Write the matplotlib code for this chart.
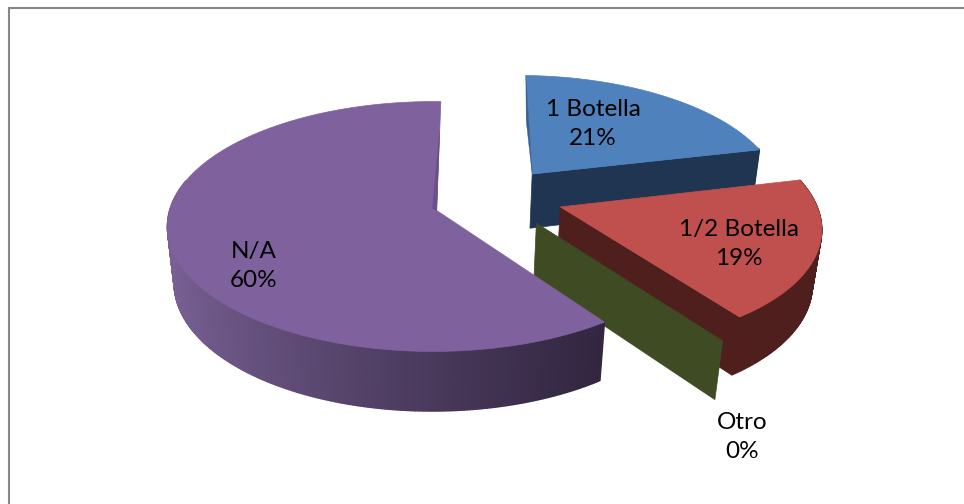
import numpy as np
import matplotlib
matplotlib.use('Agg')
import matplotlib.pyplot as plt
from matplotlib.patches import Polygon

plt.rcParams['font.family'] = ['Lato', 'DejaVu Sans']

categories = ['1 Botella', '1/2 Botella', 'Otro', 'N/A']
values = [21, 19, 0, 60]
top_colors = ['#4F81BD', '#C0504D', '#9BBB59', '#7F619D']
wall_colors = ['#1F3552', '#4F1F1D', '#3F4B22', '#5A4472']
edge_colors = ['#3A6090', '#C0504D', '#3F4B22', '#6A4F88']

# 3D pie geometry, in pixels on a 964x504 canvas
cx, cy = 437, 211
rx, ry = 264, 123
persp = 0.128       # foreshortening of the back of the pie
skew = 0.012
depth_px = 57
depth_persp = 0.025
explode = 0.25
start_deg = 1.0
# exploded slices all move away from this point on the pie plane
hub = (0.238, 0.077)
# small per-slice corrections: apex shift and radius
nudges = [(-0.018, 0.042), (0.0, 0.045), (-0.008, 0.03), (0.0, 0.0)]
radii = [0.975, 1.0, 1.03, 1.0]

label_pos = [(593, 124), (739, 244), (742, 437), (254, 266)]

fig = plt.figure(figsize=(9.64, 5.04), dpi=100)
ax = fig.add_axes([0, 0, 1, 1])
ax.set_xlim(0, 964)
ax.set_ylim(504, 0)
ax.axis('off')


def project(u, v, d=0.0):
    # u points right, v points to the back, d goes from top face (0) to bottom (1)
    s = 1 / (1 + persp * v + skew * u + depth_persp * d)
    return cx + rx * u * s, cy + (-ry * v + depth_px * d) * s


def apex_of(mid_deg, idx):
    mid = np.radians(mid_deg)
    return (hub[0] + explode * np.sin(mid) + nudges[idx][0],
            hub[1] + explode * np.cos(mid) + nudges[idx][1])


def draw_slice(idx, a0, a1, gradient=None, end_face=True, zorder=1):
    top, wall, r = top_colors[idx], wall_colors[idx], radii[idx]
    apex = apex_of((a0 + a1) / 2, idx)
    th = np.radians(np.linspace(a0, a1, max(int(a1 - a0) * 2, 2)))
    us, vs = apex[0] + r * np.sin(th), apex[1] + r * np.cos(th)

    # outer curved wall, split into strips so it can carry a gradient
    for i in range(len(th) - 1):
        if np.cos((th[i] + th[i + 1]) / 2) > 0.25:
            continue
        quad = [project(us[i], vs[i]), project(us[i + 1], vs[i + 1]),
                project(us[i + 1], vs[i + 1], 1), project(us[i], vs[i], 1)]
        col = wall
        if gradient is not None:
            f = np.clip((quad[0][0] - 170) / (603 - 170), 0, 1) ** 0.8
            col = tuple((1 - f) * np.array(gradient[0]) + f * np.array(gradient[1]))
        ax.add_patch(Polygon(quad, closed=True, fc=col, ec=col, lw=1.0, zorder=zorder))

    # cut face on the front edge of the slice
    if end_face:
        ue, ve = us[-1], vs[-1]
        face = [project(*apex), project(ue, ve), project(ue, ve, 1), project(apex[0], apex[1], 1)]
        ax.add_patch(Polygon(face, closed=True, fc=wall, ec=wall, lw=0.5, zorder=zorder))

    # top face
    outline = [project(*apex)] + [project(a, b) for a, b in zip(us, vs)]
    ax.add_patch(Polygon(outline, closed=True, fc=top, ec=top, lw=0.5, zorder=zorder + 0.1))
    return apex, th[0], r


def draw_edge_shade(idx, apex, th0, r, outer, side):
    # thin darker strip along the back cut edge of a slice
    pts = [project(apex[0] + outer * r * np.sin(th0), apex[1] + outer * r * np.cos(th0)),
           project(*apex),
           project(apex[0] + side[0], apex[1] + side[1])]
    ax.add_patch(Polygon(pts, closed=True, fc=edge_colors[idx], ec=edge_colors[idx],
                         lw=0.3, zorder=9))


# frame around the chart area
ax.plot([9, 9], [504, 7], color='#868686', lw=1.5, solid_capstyle='butt', zorder=0)
ax.plot([8, 964], [8, 8], color='#868686', lw=1.5, solid_capstyle='butt', zorder=0)

angles = start_deg + np.concatenate([[0], np.cumsum(values)]) * 3.6
purple_grad = [(120 / 255, 96 / 255, 148 / 255), (50 / 255, 38 / 255, 64 / 255)]

# blue and red first, the green cut face over them, purple last
apex_b, th_b, r_b = draw_slice(0, angles[0], angles[1], zorder=1)
draw_edge_shade(0, apex_b, th_b, r_b, 1.0, (-0.002, 0.5))
draw_slice(1, angles[1], angles[2], zorder=2)

# a zero-sized slice only shows its cut face
th_g = np.radians(angles[2])
apex_g = apex_of(angles[2], 2)
ue, ve = apex_g[0] + radii[2] * np.sin(th_g), apex_g[1] + radii[2] * np.cos(th_g)
green = [project(*apex_g), project(ue, ve), project(ue, ve, 1), project(apex_g[0], apex_g[1], 1)]
ax.add_patch(Polygon(green, closed=True, fc=wall_colors[2], ec=wall_colors[2], lw=0.5, zorder=3))

apex_n, th_n, r_n = draw_slice(3, angles[2], angles[4], gradient=purple_grad,
                               end_face=False, zorder=4)
draw_edge_shade(3, apex_n, np.radians(angles[4]), r_n, 0.72, (-0.016, 0.018))

for name, val, (lx, ly) in zip(categories, values, label_pos):
    ax.text(lx, ly, f'{name}\n{val}%', ha='center', va='center', fontsize=17.5,
            color='black', linespacing=1.5, zorder=10)

fig.savefig('out.png', dpi=100, facecolor='white')
